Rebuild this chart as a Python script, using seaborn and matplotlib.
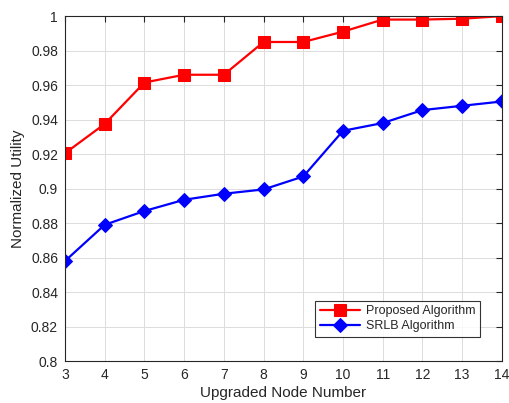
import matplotlib
matplotlib.use("Agg")
import matplotlib.pyplot as plt
import seaborn as sns
import pandas as pd

nodes = [3, 4, 5, 6, 7, 8, 9, 10, 11, 12, 13, 14]
proposed = [0.9205, 0.9375, 0.9615, 0.966, 0.966, 0.985, 0.985, 0.991, 0.998, 0.998, 0.9985, 1.0]
srlb = [0.858, 0.879, 0.887, 0.8935, 0.897, 0.8995, 0.907, 0.9335, 0.938, 0.9455, 0.948, 0.9505]

df = pd.DataFrame({"node": nodes, "Proposed Algorithm": proposed, "SRLB Algorithm": srlb})

sns.set_style("white")
plt.rcParams['font.family'] = ['Liberation Sans', 'DejaVu Sans']

fig = plt.figure(figsize=(5.1, 4.03), dpi=100)
ax = fig.add_axes([0.1275, 0.1042, 0.8565, 0.8558])

sns.lineplot(data=df, x="node", y="Proposed Algorithm", ax=ax, color="red", marker="s",
             markersize=8, linewidth=1.6, markeredgecolor="red", label="Proposed Algorithm")
sns.lineplot(data=df, x="node", y="SRLB Algorithm", ax=ax, color="blue", marker="D",
             markersize=7, linewidth=1.6, markeredgecolor="blue", label="SRLB Algorithm")

ax.set_xlim(3, 14)
ax.set_ylim(0.8, 1.0)
ax.set_xticks(range(3, 15))
yt = [0.8, 0.82, 0.84, 0.86, 0.88, 0.9, 0.92, 0.94, 0.96, 0.98, 1.0]
ax.set_yticks(yt)
ax.set_yticklabels(["0.8", "0.82", "0.84", "0.86", "0.88", "0.9", "0.92", "0.94", "0.96", "0.98", "1"])
ax.grid(True, color="#dcdcdc", linewidth=0.7)
ax.tick_params(direction="in", top=True, right=True, labelsize=10, length=4, color="#262626",
               labelcolor="#262626", pad=5)
for s in ax.spines.values():
    s.set_color("#262626")
    s.set_linewidth(0.8)
ax.set_xlabel("Upgraded Node Number", fontsize=11, color="#262626", labelpad=3)
ax.set_ylabel("Normalized Utility", fontsize=11, color="#262626")

leg = ax.legend(loc="lower right", bbox_to_anchor=(0.95, 0.07), fontsize=9, frameon=True,
                fancybox=False, edgecolor="black", handlelength=3.2, borderpad=0.35,
                labelspacing=0.25, borderaxespad=0, handletextpad=0.5)
leg.get_frame().set_linewidth(0.8)

fig.savefig("out.png", dpi=100)
